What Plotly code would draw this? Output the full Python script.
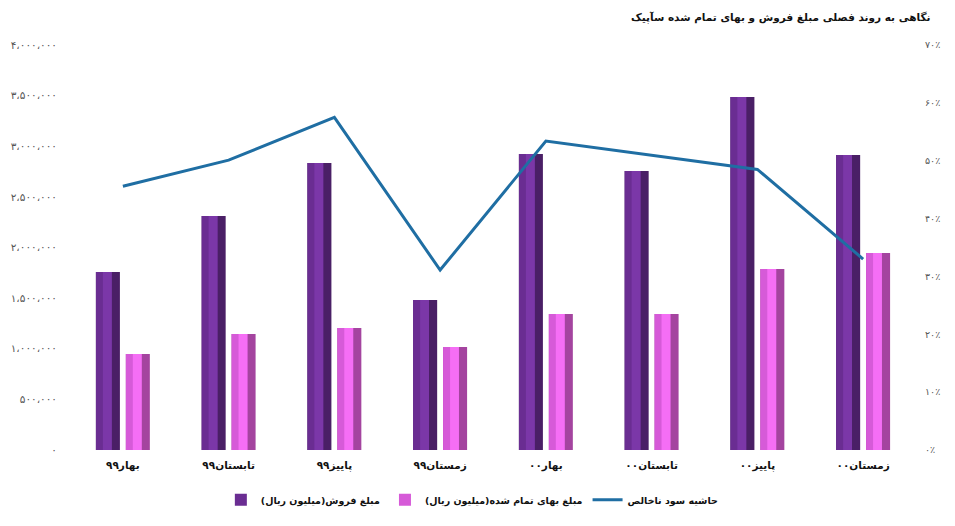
import plotly.graph_objects as go

# داده‌ها
fasl = ["بهار۹۹", "تابستان۹۹", "پاییز۹۹", "زمستان۹۹", "بهار۰۰", "تابستان۰۰", "پاییز۰۰", "زمستان۰۰"]
foroosh = [1758000, 2311000, 2835000, 1481000, 2923000, 2756000, 3486000, 2914000]
baha = [948000, 1146000, 1205000, 1017000, 1343000, 1343000, 1788000, 1946000]
hashie = [0.456, 0.501, 0.575, 0.311, 0.534, 0.509, 0.485, 0.330]

left_vals = [0, 500000, 1000000, 1500000, 2000000, 2500000, 3000000, 3500000, 4000000]
left_text = ["۰", "۵۰۰،۰۰۰", "۱،۰۰۰،۰۰۰", "۱،۵۰۰،۰۰۰", "۲،۰۰۰،۰۰۰",
             "۲،۵۰۰،۰۰۰", "۳،۰۰۰،۰۰۰", "۳،۵۰۰،۰۰۰", "۴،۰۰۰،۰۰۰"]
right_vals = [0, 0.1, 0.2, 0.3, 0.4, 0.5, 0.6, 0.7]
right_text = ["۰٪", "۱۰٪", "۲۰٪", "۳۰٪", "۴۰٪", "۵۰٪", "۶۰٪", "۷۰٪"]

font = "DejaVu Sans"
W = 0.227  # عرض هر ستون


def bar3d(fig, y, name, dark, mid, light, off):
    # ستون با سه رنگ برای حالت برجسته
    fig.add_trace(go.Bar(x=fasl, y=y, name=name, legendgroup=name, showlegend=False,
                         width=W, offset=off, marker=dict(color=dark, line_width=0)))
    fig.add_trace(go.Bar(x=fasl, y=y, name=name, legendgroup=name, showlegend=True,
                         width=W * 0.66, offset=off, marker=dict(color=mid, line_width=0)))
    fig.add_trace(go.Bar(x=fasl, y=y, name=name, legendgroup=name, showlegend=False,
                         width=W * 0.37, offset=off + W * 0.29, marker=dict(color=light, line_width=0)))


fig = go.Figure()
bar3d(fig, foroosh, "مبلغ فروش(میلیون ریال)\u200f", "#4a1f66", "#6a2d92", "#7b37a8", -0.255)
bar3d(fig, baha, "مبلغ بهای تمام شده(میلیون ریال)\u200f", "#a4449f", "#d65ad8", "#f56ef5", 0.028)
fig.add_trace(go.Scatter(x=fasl, y=hashie, name="حاشیه سود ناخالص", yaxis="y2",
                         mode="lines", line=dict(color="#1f6ea3", width=3)))

# صفحه ۸ پیکسل حاشیه دارد
fig.update_layout(
    width=947, height=518,
    margin=dict(l=62, r=39, t=37, b=76),
    paper_bgcolor="white", plot_bgcolor="white",
    barmode="overlay",
    font=dict(family=font, size=10, color="#555"),
    xaxis=dict(showgrid=False, showline=False, ticks="", automargin=False, ticklabelstandoff=7,
               tickfont=dict(size=10.5, color="#111", family=font, weight="bold")),
    yaxis=dict(range=[0, 4000000], tickvals=left_vals, ticktext=left_text, automargin=False,
               showgrid=False, zeroline=False, showline=False, ticks="", ticklabelstandoff=12,
               tickfont=dict(size=10.5, color="#555")),
    yaxis2=dict(range=[0, 0.7], tickvals=right_vals, ticktext=right_text, automargin=False,
                overlaying="y", side="right", showgrid=False, zeroline=False,
                showline=False, ticks="", ticklabelstandoff=8, tickfont=dict(size=9.5, color="#555")),
    legend=dict(orientation="h", x=0.475, xanchor="center", y=-0.123, yanchor="middle",
                font=dict(size=9.5, color="#111", family=font, weight="bold"), itemwidth=30),
    showlegend=True,
)

fig.add_annotation(text="<b>نگاهی به روند فصلی مبلغ فروش و بهای تمام شده سآپیک</b>",
                   xref="paper", yref="paper", x=1.02, y=1.069, xanchor="right", yanchor="middle",
                   showarrow=False, font=dict(size=10.5, color="#111", family=font))

fig.write_html("out.html")
